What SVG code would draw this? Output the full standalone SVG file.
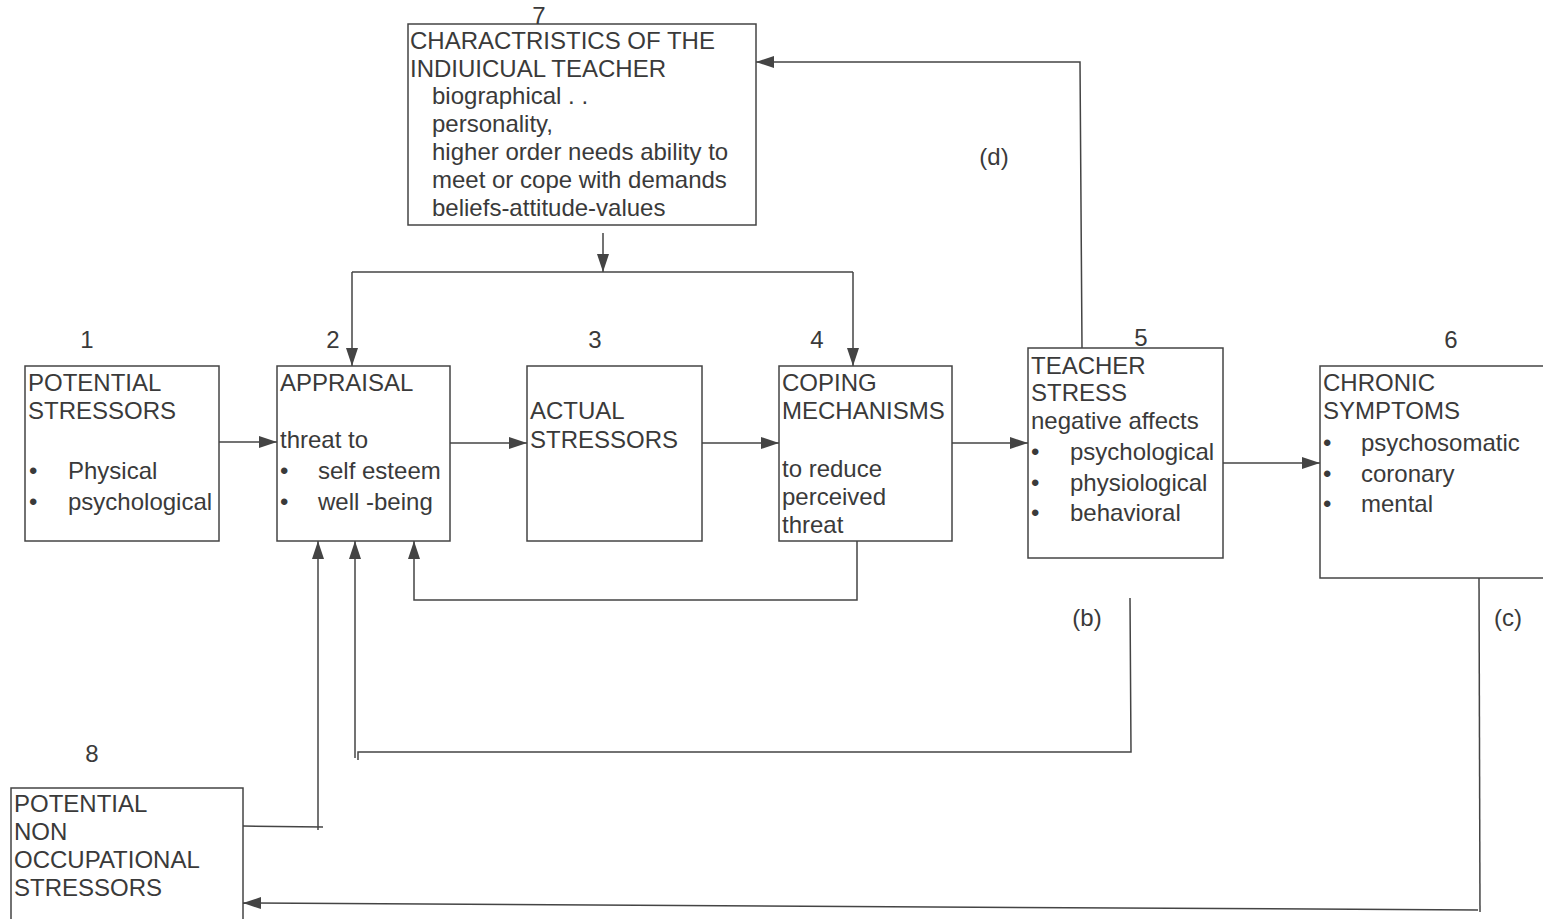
<svg xmlns="http://www.w3.org/2000/svg" width="1543" height="919" viewBox="0 0 1543 919">
<style>
text{font-family:"Liberation Sans",Arial,sans-serif;font-size:24px;fill:#3a3a3a}
.num{text-anchor:middle}
.box{fill:#fff;stroke:#444;stroke-width:1.5}
.ln{fill:none;stroke:#444;stroke-width:1.5}
.ar{fill:none;stroke:#444;stroke-width:1.5;marker-end:url(#ah)}
</style>
<defs>
<marker id="ah" markerUnits="userSpaceOnUse" markerWidth="20" markerHeight="14" refX="18" refY="7" orient="auto">
<path d="M0,1 L18,7 L0,13 z" fill="#444"/>
</marker>
</defs>
<rect width="1543" height="919" fill="#fff"/>

<g id="connectors">
<line class="ar" x1="603" y1="233" x2="603" y2="272"/>
<polyline class="ln" points="352,272 853,272"/>
<line class="ar" x1="352" y1="272" x2="352" y2="366"/>
<line class="ar" x1="853" y1="272" x2="853" y2="366"/>
<line class="ar" x1="219" y1="442" x2="277" y2="442"/>
<line class="ar" x1="450" y1="443" x2="527" y2="443"/>
<line class="ar" x1="702" y1="443" x2="779" y2="443"/>
<line class="ar" x1="952" y1="443" x2="1028" y2="443"/>
<line class="ar" x1="1223" y1="463" x2="1320" y2="463"/>
<polyline class="ar" points="1082,348 1080,62 756,62"/>
<polyline class="ar" points="857,541 857,600 414,600 414,541"/>
<polyline class="ln" points="1130,598 1131,752 358,752 358,760"/>
<line class="ar" x1="355" y1="758" x2="355" y2="541"/>
<polyline class="ln" points="243,826 323,827"/>
<line class="ar" x1="318" y1="830" x2="318" y2="541"/>
<polyline class="ln" points="1479,578 1480,912"/>
<line class="ar" x1="1478" y1="910" x2="243" y2="903"/>
</g>

<g id="node7">
<rect class="box" x="408" y="24" width="348" height="201"/>
<text class="num" x="539" y="24">7</text>
<text x="410" y="49">CHARACTRISTICS OF THE</text>
<text x="410" y="77">INDIUICUAL TEACHER</text>
<text x="432" y="104">biographical . .</text>
<text x="432" y="132">personality,</text>
<text x="432" y="160">higher order needs ability to</text>
<text x="432" y="188">meet or cope with demands</text>
<text x="432" y="216">beliefs-attitude-values</text>
</g>

<g id="node1">
<rect class="box" x="25" y="366" width="194" height="175"/>
<text class="num" x="87" y="348">1</text>
<text x="28" y="391">POTENTIAL</text>
<text x="28" y="419">STRESSORS</text>
<text x="29" y="479">•</text>
<text x="68" y="479">Physical</text>
<text x="29" y="510">•</text>
<text x="68" y="510">psychological</text>
</g>

<g id="node2">
<rect class="box" x="277" y="366" width="173" height="175"/>
<text class="num" x="333" y="348">2</text>
<text x="280" y="391">APPRAISAL</text>
<text x="280" y="448">threat to</text>
<text x="280" y="479">•</text>
<text x="318" y="479">self esteem</text>
<text x="280" y="510">•</text>
<text x="318" y="510">well -being</text>
</g>

<g id="node3">
<rect class="box" x="527" y="366" width="175" height="175"/>
<text class="num" x="595" y="348">3</text>
<text x="530" y="419">ACTUAL</text>
<text x="530" y="448">STRESSORS</text>
</g>

<g id="node4">
<rect class="box" x="779" y="366" width="173" height="175"/>
<text class="num" x="817" y="348">4</text>
<text x="782" y="391">COPING</text>
<text x="782" y="419">MECHANISMS</text>
<text x="782" y="477">to reduce</text>
<text x="782" y="505">perceived</text>
<text x="782" y="533">threat</text>
</g>

<g id="node5">
<rect class="box" x="1028" y="348" width="195" height="210"/>
<text class="num" x="1141" y="346">5</text>
<text x="1031" y="374">TEACHER</text>
<text x="1031" y="401">STRESS</text>
<text x="1031" y="429">negative affects</text>
<text x="1031" y="460">•</text>
<text x="1070" y="460">psychological</text>
<text x="1031" y="491">•</text>
<text x="1070" y="491">physiological</text>
<text x="1031" y="521">•</text>
<text x="1070" y="521">behavioral</text>
</g>

<g id="node6">
<rect class="box" x="1320" y="366" width="240" height="212"/>
<text class="num" x="1451" y="348">6</text>
<text x="1323" y="391">CHRONIC</text>
<text x="1323" y="419">SYMPTOMS</text>
<text x="1323" y="451">•</text>
<text x="1361" y="451">psychosomatic</text>
<text x="1323" y="482">•</text>
<text x="1361" y="482">coronary</text>
<text x="1323" y="512">•</text>
<text x="1361" y="512">mental</text>
</g>

<g id="node8">
<rect class="box" x="11" y="788" width="232" height="150"/>
<text class="num" x="92" y="762">8</text>
<text x="14" y="812">POTENTIAL</text>
<text x="14" y="840">NON</text>
<text x="14" y="868">OCCUPATIONAL</text>
<text x="14" y="896">STRESSORS</text>
</g>

<g id="labels">
<text class="num" x="994" y="165">(d)</text>
<text class="num" x="1087" y="626">(b)</text>
<text class="num" x="1508" y="626">(c)</text>
</g>
</svg>
